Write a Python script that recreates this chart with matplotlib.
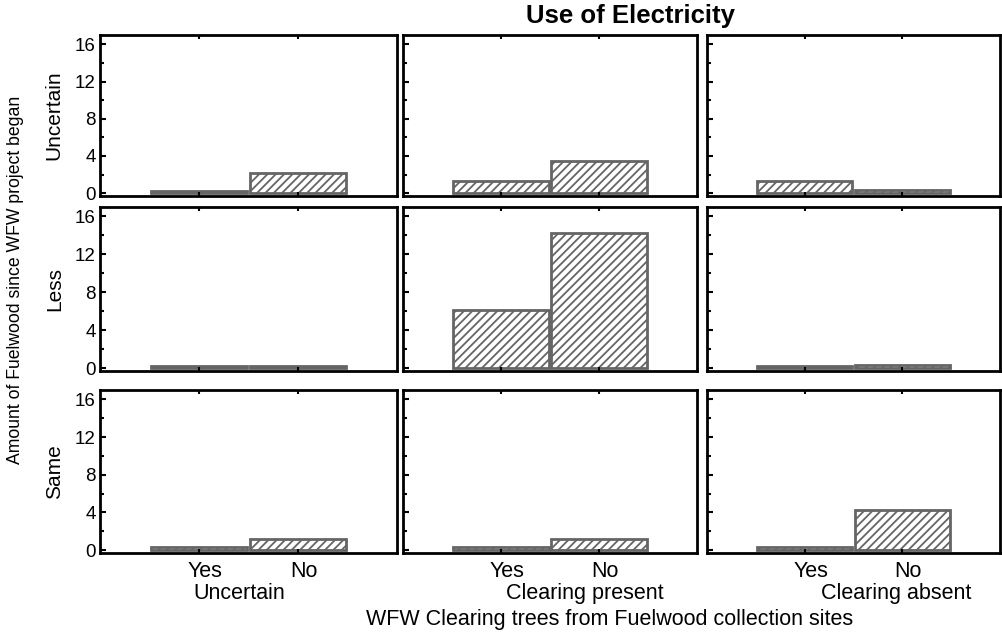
import numpy as np
import matplotlib
matplotlib.use("Agg")
import matplotlib.pyplot as plt
import matplotlib.transforms as mtransforms
from matplotlib.ticker import MultipleLocator

plt.rcParams['font.family'] = ['Liberation Sans', 'DejaVu Sans']
plt.rcParams['hatch.linewidth'] = 1.3

# data
row_labels = ["Uncertain", "Less", "Same"]
col_labels = ["Uncertain", "Clearing present", "Clearing absent"]
categories = ["Yes", "No"]

yes_vals = [[0.2, 1.3, 1.3],
            [0.2, 6.1, 0.2],
            [0.3, 0.3, 0.3]]
no_vals = [[2.2, 3.5, 0.3],
           [0.2, 14.3, 0.3],
           [1.2, 1.2, 4.3]]

title = "Use of Electricity"
xlabel = "WFW Clearing trees from Fuelwood collection sites"
ylabel = "Amount of Fuelwood since WFW project began"

W, H = 1002, 634
fig = plt.figure(figsize=(W / 100, H / 100), dpi=100)

col_left = [100, 403, 707]
col_width = [297, 294, 293]
row_top = [35, 207, 390]
row_bot = [196, 371, 553]
col_label_x = [0.47, 0.62, 0.645]

x = np.arange(len(categories))
bar_col = "#656565"
shift = mtransforms.ScaledTranslation(6 / 100, 0, fig.dpi_scale_trans)

for r in range(3):
    for c in range(3):
        ax = fig.add_axes([col_left[c] / W, 1 - row_bot[r] / H,
                           col_width[c] / W, (row_bot[r] - row_top[r]) / H])
        vals = [yes_vals[r][c], no_vals[r][c]]
        ax.bar(x, vals, width=0.97, facecolor="white", edgecolor=bar_col,
               linewidth=2, hatch="////")
        ax.set_xlim(-1, 2)
        ax.set_ylim(-0.3, 17)
        ax.yaxis.set_major_locator(MultipleLocator(4))
        ax.yaxis.set_minor_locator(MultipleLocator(2))
        ax.set_xticks(x)
        ax.tick_params(axis="both", which="both", direction="in", top=True,
                       labelsize=13.5, width=1.5, length=4, pad=3)
        ax.tick_params(axis="x", length=3, pad=6)
        ax.tick_params(axis="y", which="minor", length=3)
        for sp in ax.spines.values():
            sp.set_linewidth(2)
        if c == 0:
            ax.set_ylabel(row_labels[r], fontsize=15, labelpad=8)
        else:
            ax.set_yticklabels([])
        if r == 2:
            ax.set_xticklabels(categories, fontsize=15.5)
            for lab in ax.get_xticklabels():
                lab.set_transform(lab.get_transform() + shift)
            ax.text(col_label_x[c], -0.25, col_labels[c], transform=ax.transAxes,
                    ha="center", va="center", fontsize=15.5)
        else:
            ax.set_xticklabels([])

fig.text(631 / W, 1 - 16 / H, title, ha="center", va="center",
         fontsize=18.5, fontweight="bold")
fig.text(610 / W, 1 - 619 / H, xlabel, ha="center", va="center", fontsize=15.5)
fig.text(16 / W, 1 - 280 / H, ylabel, ha="center", va="center",
         rotation=90, fontsize=12.7)

fig.savefig("out.png", dpi=100)
